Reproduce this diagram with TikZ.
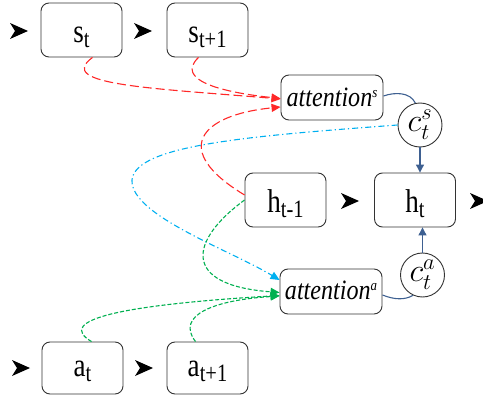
\documentclass[tikz,border=0pt]{standalone}
\usepackage{fontspec}
\setmainfont{Liberation Serif}
\usetikzlibrary{arrows.meta}
\definecolor{dkblue}{RGB}{62,96,145}
\definecolor{myred}{RGB}{255,40,40}
\definecolor{myblue}{RGB}{0,176,240}
\definecolor{mygreen}{RGB}{0,176,80}
\newcommand{\lab}[2]{\scalebox{0.82}[1]{\fontsize{33}{33}\selectfont #1\raisebox{-5pt}{\fontsize{25}{25}\selectfont #2}}}
\newcommand{\attn}[1]{\scalebox{0.86}[1]{\fontsize{28}{28}\selectfont\itshape attention\raisebox{9pt}{\fontsize{15}{15}\selectfont #1}}}
\newcommand{\ctx}[1]{\raisebox{3pt}{\scalebox{1.3}{\fontsize{24}{24}\selectfont $c_t^{#1}$}}}
\begin{document}
\begin{tikzpicture}[x=1pt,y=-1pt,
  box/.style={draw=black!80, line width=0.9pt, rounded corners=8pt, minimum width=81pt, minimum height=54pt, inner sep=0pt, text height=26pt, text depth=0pt},
  abox/.style={box, minimum width=102pt, minimum height=45pt, text height=18pt},
  ctxc/.style={draw=black!80, line width=0.9pt, circle, minimum size=44pt, inner sep=0pt},
  redc/.style={myred, line width=1.1pt, dash pattern=on 9pt off 4pt, -{Triangle[length=9pt,width=8pt]}},
  bluec/.style={myblue, line width=1.1pt, dash pattern=on 6pt off 3pt on 1.2pt off 3pt, -{Triangle[length=9pt,width=8pt]}},
  greenc/.style={mygreen, line width=1.1pt, dash pattern=on 4pt off 2pt, -{Triangle[length=9pt,width=8pt]}},
  dkc/.style={dkblue, line width=1.1pt},
  ahead/.pic={\fill (0,-8) -- (18,0) -- (0,8) -- (5,0) -- cycle;}
]
\useasboundingbox (0,0) rectangle (483,396);

% nodes
\node[box] (st)  at (81.5,30)  {\lab{s}{t}};
\node[box] (st1) at (207.5,30) {\lab{s}{t+1}};
\node[abox] (atts) at (332,97.5) {\attn{s}};
\node[ctxc] (cs) at (420,125) {\ctx{s}};
\node[box] (hm) at (285.5,200) {\lab{h}{t-1}};
\node[box] (ht) at (415,200) {\lab{h}{t}};
\node[abox, text height=15pt] (atta) at (331,291.5) {\attn{a}};
\node[ctxc] (ca) at (422.5,275) {\ctx{a}};
\node[box, minimum height=52pt, text height=18pt] (at)  at (82.5,368)  {\lab{a}{t}};
\node[box, minimum height=52pt, text height=18pt] (at1) at (207.5,368) {\lab{a}{t+1}};

% black arrowheads
\pic at (10,31) {ahead};
\pic at (134,31) {ahead};
\pic at (341,201) {ahead};
\pic at (470,201) {ahead};
\pic at (12,368) {ahead};
\pic at (135,368) {ahead};

% red dashed
\draw[redc] ([xshift=11pt]st.south) .. controls (55,85) and (150,88) .. ([yshift=-1.5pt]atts.west);
\draw[redc] ([xshift=-9pt]st1.south) .. controls (175,80) and (220,92) .. ([yshift=-1pt]atts.west);
\draw[redc] ([yshift=5pt]hm.west) .. controls (170,150) and (200,115) .. ([yshift=-9.5pt]atts.west);

% blue dash-dot
\draw[bluec] (cs.west) .. controls (250,136) and (135,145) .. (132,180) .. controls (130,215) and (230,250) .. ([yshift=11.5pt]atta.west);

% green dashed
\draw[greenc] (hm.west) .. controls (190,240) and (180,285) .. ([yshift=-1pt]atta.west);
\draw[greenc] ([xshift=9pt]at.north) .. controls (55,320) and (120,305) .. ([yshift=-4pt]atta.west);
\draw[greenc] ([xshift=-12pt]at1.north) .. controls (175,315) and (215,300) .. ([yshift=-4.5pt]atta.west);

% dark blue
\draw[dkc] ([yshift=1.5pt]atts.east) .. controls (395,92) and (410,92) .. (cs.102);
\draw[dkc] ([yshift=-3.5pt]atta.east) .. controls (395,300) and (405,300) .. (ca.245);
\draw[dkc, -{Triangle[length=8pt,width=8pt]}] (cs.south) -- (cs.south |- ht.north);
\draw[dkc, -{Triangle[length=8pt,width=8pt]}] (ca.north) -- (ca.north |- ht.south);
\end{tikzpicture}
\end{document}
